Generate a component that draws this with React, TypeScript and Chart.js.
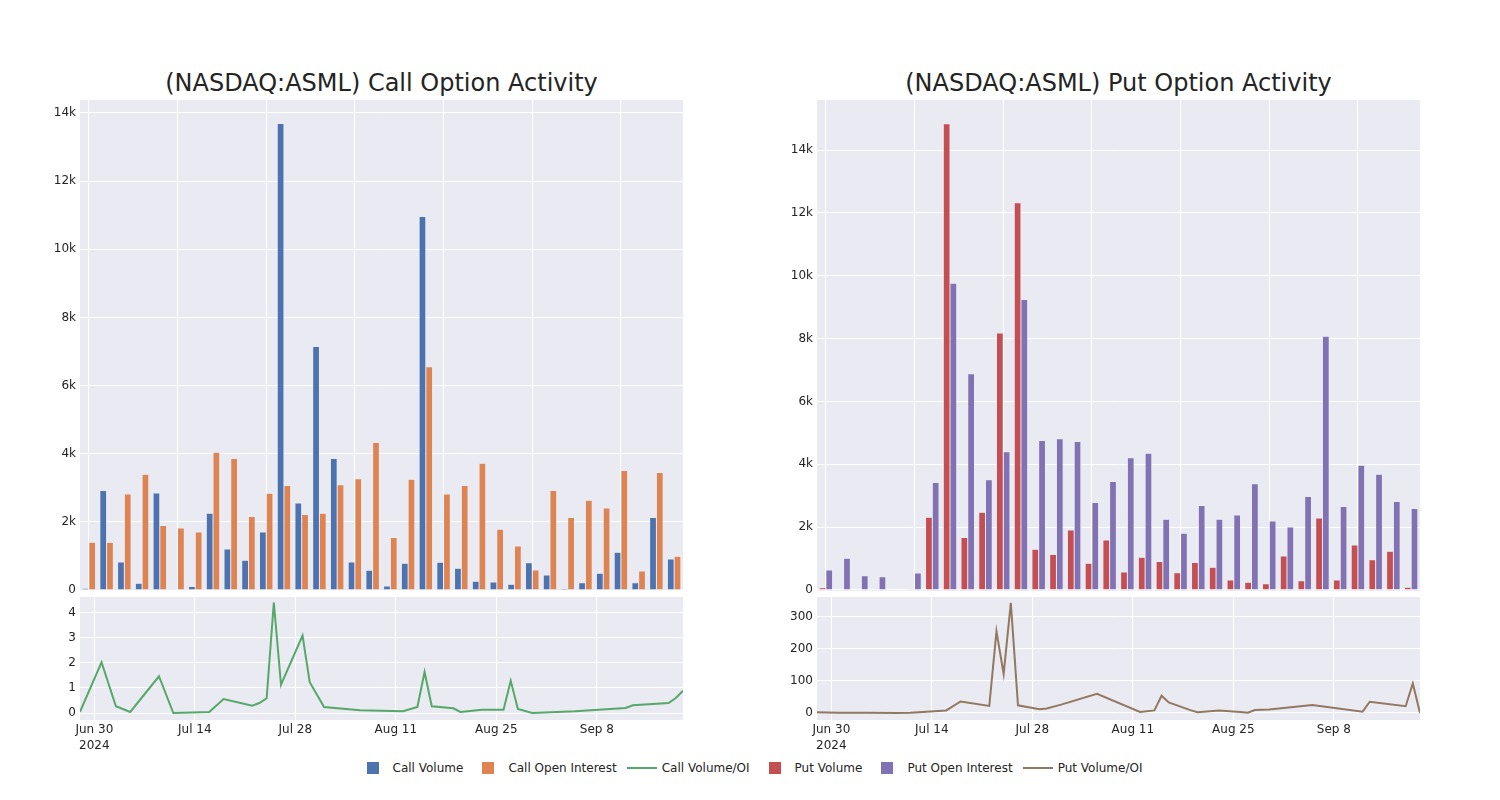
import React, { useEffect, useRef } from 'react';
import { Chart, registerables } from 'chart.js';

Chart.register(...registerables);

const dates = [
  '2024-06-28', '2024-07-01', '2024-07-03', '2024-07-05', '2024-07-09', '2024-07-11',
  '2024-07-16', '2024-07-18', '2024-07-22', '2024-07-23', '2024-07-24', '2024-07-25',
  '2024-07-26', '2024-07-29', '2024-07-30', '2024-08-01', '2024-08-06', '2024-08-12',
  '2024-08-14', '2024-08-15', '2024-08-16', '2024-08-19', '2024-08-20', '2024-08-23',
  '2024-08-26', '2024-08-27', '2024-08-28', '2024-08-30', '2024-09-05', '2024-09-12',
  '2024-09-13', '2024-09-18', '2024-09-19', '2024-09-20',
];

const callVolume = [50, 2920, 823, 196, 2850, 10, 100, 2250, 1200, 870, 1700, 13690, 2550, 7150, 3860, 823, 578, 118, 784, 10960, 813, 637, 255, 235, 167, 803, 441, 40, 215, 490, 1107, 215, 2127, 911];
const callOpenInterest = [1400, 1400, 2820, 3400, 1890, 1820, 1700, 4040, 3860, 2160, 2840, 3070, 2215, 2250, 3090, 3265, 4330, 1540, 3250, 6550, 2820, 3070, 3720, 1780, 1290, 588, 2920, 2127, 2636, 2410, 3508, 560, 3450, 990];
const callVolumeOI = [0.05, 2.03, 0.27, 0.04, 1.47, 0.0, 0.04, 0.56, 0.29, 0.4, 0.59, 4.42, 1.13, 3.1, 1.23, 0.24, 0.11, 0.07, 0.24, 1.64, 0.27, 0.19, 0.04, 0.13, 0.13, 1.29, 0.16, 0.0, 0.07, 0.2, 0.31, 0.4, 0.6, 0.89];

const putVolume = [74, 15, 10, 5, 0, 5, 2315, 14835, 1667, 2474, 8180, 12320, 1296, 1126, 1912, 850, 1593, 573, 1040, 903, 552, 871, 722, 319, 244, 202, 1083, 297, 2294, 319, 1434, 966, 1232, 85];
const putOpenInterest = [637, 1010, 457, 425, 20, 540, 3420, 9760, 6880, 3505, 4397, 9240, 4758, 4811, 4726, 2782, 3450, 4205, 4354, 2251, 1805, 2687, 2251, 2390, 3377, 2198, 2007, 2974, 8071, 2655, 3972, 3685, 2814, 2591];
const putVolumeOI = [2, 1, 0.5, 0.3, 0, 1, 8, 36, 22, 255, 122, 344, 24, 12, 14, 26, 60, 3, 8, 54, 33, 9, 2, 8, 3, 1, 9, 11, 25, 4, 35, 21, 92, 0];

const xTickDates = ['2024-06-30', '2024-07-14', '2024-07-28', '2024-08-11', '2024-08-25', '2024-09-08'];
const barTicks = [0, 2000, 4000, 6000, 8000, 10000, 12000, 14000];
const callRatioTicks = [0, 1, 2, 3, 4];
const putRatioTicks = [0, 100, 200, 300];

const MONTHS = ['Jan', 'Feb', 'Mar', 'Apr', 'May', 'Jun', 'Jul', 'Aug', 'Sep', 'Oct', 'Nov', 'Dec'];
const FONT = 'DejaVu Sans';
const TEXT = '#242424';
const BG = '#eaeaf2';
const PAD = 14;

const dayNum = (s: string) => {
  const [y, m, d] = s.split('-').map(Number);
  return Date.UTC(y, m - 1, d) / 86400000;
};

const dayLabel = (v: number, first: boolean) => {
  const dt = new Date(v * 86400000);
  const lab = `${MONTHS[dt.getUTCMonth()]} ${dt.getUTCDate()}`;
  return first ? [lab, String(dt.getUTCFullYear())] : lab;
};

const bgPlugin = {
  id: 'plotBg',
  beforeDraw(chart: any) {
    const { ctx, chartArea: a } = chart;
    ctx.save();
    ctx.fillStyle = BG;
    ctx.fillRect(a.left, a.top, a.right - a.left, a.bottom - a.top);
    ctx.restore();
  },
};

const tickFont = { family: FONT, size: 12 };

function barConfig(a: number[], b: number[], la: string, lb: string, ca: string, cb: string, yMin: number, yMax: number): any {
  return {
    type: 'bar',
    data: {
      labels: dates,
      datasets: [
        { label: la, data: a, backgroundColor: ca, borderColor: BG, borderWidth: 0.5, categoryPercentage: 0.76, barPercentage: 1 },
        { label: lb, data: b, backgroundColor: cb, borderColor: BG, borderWidth: 0.5, categoryPercentage: 0.76, barPercentage: 1 },
      ],
    },
    options: {
      animation: false,
      responsive: false,
      maintainAspectRatio: false,
      layout: { padding: { top: PAD, bottom: PAD, left: 0, right: 0 } },
      plugins: { legend: { display: false }, tooltip: { enabled: false } },
      scales: {
        x: {
          type: 'category',
          offset: true,
          grid: {
            offset: false,
            drawTicks: false,
            lineWidth: 1,
            color: (c: any) => (c.index % 5 === 0 ? '#ffffff' : 'rgba(0,0,0,0)'),
          },
          border: { display: false },
          ticks: { display: false, autoSkip: false },
          afterFit: (s: any) => { s.height = 0; },
        },
        y: {
          min: yMin,
          max: yMax,
          grid: { color: '#ffffff', drawTicks: false, lineWidth: 1 },
          border: { display: false },
          ticks: {
            padding: 4,
            font: tickFont,
            color: TEXT,
            callback: (v: number) => (v === 0 ? '0' : `${v / 1000}k`),
          },
          afterBuildTicks: (s: any) => { s.ticks = barTicks.map((v) => ({ value: v })); },
          afterFit: (s: any) => { s.width = 80; },
        },
      },
    },
    plugins: [bgPlugin],
  };
}

function lineConfig(vals: number[], label: string, color: string, yMin: number, yMax: number, yTicks: number[]): any {
  const x0 = dayNum(dates[0]);
  const firstTick = dayNum(xTickDates[0]);
  return {
    type: 'line',
    data: {
      datasets: [
        {
          label,
          data: dates.map((d, i) => ({ x: dayNum(d), y: vals[i] })),
          borderColor: color,
          backgroundColor: color,
          borderWidth: 2,
          pointRadius: 0,
          tension: 0,
          fill: false,
        },
      ],
    },
    options: {
      animation: false,
      responsive: false,
      maintainAspectRatio: false,
      layout: { padding: { top: PAD, bottom: 0, left: 0, right: 0 } },
      plugins: { legend: { display: false }, tooltip: { enabled: false } },
      scales: {
        x: {
          type: 'linear',
          min: x0,
          max: dayNum(dates[dates.length - 1]),
          grid: { color: '#ffffff', drawTicks: false, lineWidth: 1 },
          border: { display: false },
          ticks: {
            padding: 2,
            font: { ...tickFont, lineHeight: 1.35 },
            color: TEXT,
            maxRotation: 0,
            autoSkip: false,
            callback: (v: number) => dayLabel(v, v === firstTick),
          },
          afterBuildTicks: (s: any) => { s.ticks = xTickDates.map((d) => ({ value: dayNum(d) })); },
          afterFit: (s: any) => { s.height = 37; },
        },
        y: {
          min: yMin,
          max: yMax,
          grid: { color: '#ffffff', drawTicks: false, lineWidth: 1 },
          border: { display: false },
          ticks: { padding: 4, font: tickFont, color: TEXT, callback: (v: number) => String(v) },
          afterBuildTicks: (s: any) => { s.ticks = yTicks.map((v) => ({ value: v })); },
          afterFit: (s: any) => { s.width = 80; },
        },
      },
    },
    plugins: [bgPlugin],
  };
}

const legendItems = [
  { label: 'Call Volume', color: '#4c72b0', kind: 'box' },
  { label: 'Call Open Interest', color: '#dd8452', kind: 'box' },
  { label: 'Call Volume/OI', color: '#55a868', kind: 'line' },
  { label: 'Put Volume', color: '#c44e52', kind: 'box' },
  { label: 'Put Open Interest', color: '#8172b3', kind: 'box' },
  { label: 'Put Volume/OI', color: '#937860', kind: 'line' },
];

export default function App() {
  const r1 = useRef<HTMLCanvasElement>(null);
  const r2 = useRef<HTMLCanvasElement>(null);
  const r3 = useRef<HTMLCanvasElement>(null);
  const r4 = useRef<HTMLCanvasElement>(null);

  useEffect(() => {
    const charts = [
      new Chart(r1.current as any, barConfig(callVolume, callOpenInterest, 'Call Volume', 'Call Open Interest', '#4c72b0', '#dd8452', -29, 14381)),
      new Chart(r2.current as any, lineConfig(callVolumeOI, 'Call Volume/OI', '#55a868', -0.28, 4.64, callRatioTicks)),
      new Chart(r3.current as any, barConfig(putVolume, putOpenInterest, 'Put Volume', 'Put Open Interest', '#c44e52', '#8172b3', -32, 15591)),
      new Chart(r4.current as any, lineConfig(putVolumeOI, 'Put Volume/OI', '#937860', -22, 362.5, putRatioTicks)),
    ];
    return () => charts.forEach((c) => c.destroy());
  }, []);

  const canvasStyle = (left: number, top: number): React.CSSProperties => ({ position: 'absolute', left, top, display: 'block' });
  const titleStyle = (left: number): React.CSSProperties => ({
    position: 'absolute', left, top: 69, width: 603, textAlign: 'center',
    fontFamily: FONT, fontSize: 24, lineHeight: '29px', color: TEXT, whiteSpace: 'nowrap',
  });

  return (
    <div style={{ position: 'absolute', left: 0, top: 0, width: 1500, height: 800, background: '#ffffff', overflow: 'hidden' }}>
      <div style={titleStyle(80)}>(NASDAQ:ASML) Call Option Activity</div>
      <div style={titleStyle(817)}>(NASDAQ:ASML) Put Option Activity</div>
      <canvas ref={r1} width={683} height={491 + 2 * PAD} style={canvasStyle(0, 100 - PAD)} />
      <canvas ref={r2} width={683} height={160 + PAD} style={canvasStyle(0, 597 - PAD)} />
      <canvas ref={r3} width={683} height={491 + 2 * PAD} style={canvasStyle(737, 100 - PAD)} />
      <canvas ref={r4} width={683} height={160 + PAD} style={canvasStyle(737, 597 - PAD)} />
      <div style={{ position: 'absolute', left: 0, top: 758, width: 1500, height: 20, display: 'flex', justifyContent: 'center', alignItems: 'center', fontFamily: FONT, fontSize: 12, color: TEXT }}>
        {legendItems.map((it) => (
          <div key={it.label} style={{ display: 'flex', alignItems: 'center', marginRight: 5 }}>
            <div style={{ width: 40, height: 20, display: 'flex', alignItems: 'center', justifyContent: 'center' }}>
              {it.kind === 'box' ? (
                <div style={{ width: 12, height: 12, background: it.color }} />
              ) : (
                <div style={{ width: 30, height: 2, background: it.color }} />
              )}
            </div>
            <span style={{ whiteSpace: 'nowrap' }}>{it.label}</span>
          </div>
        ))}
      </div>
    </div>
  );
}
